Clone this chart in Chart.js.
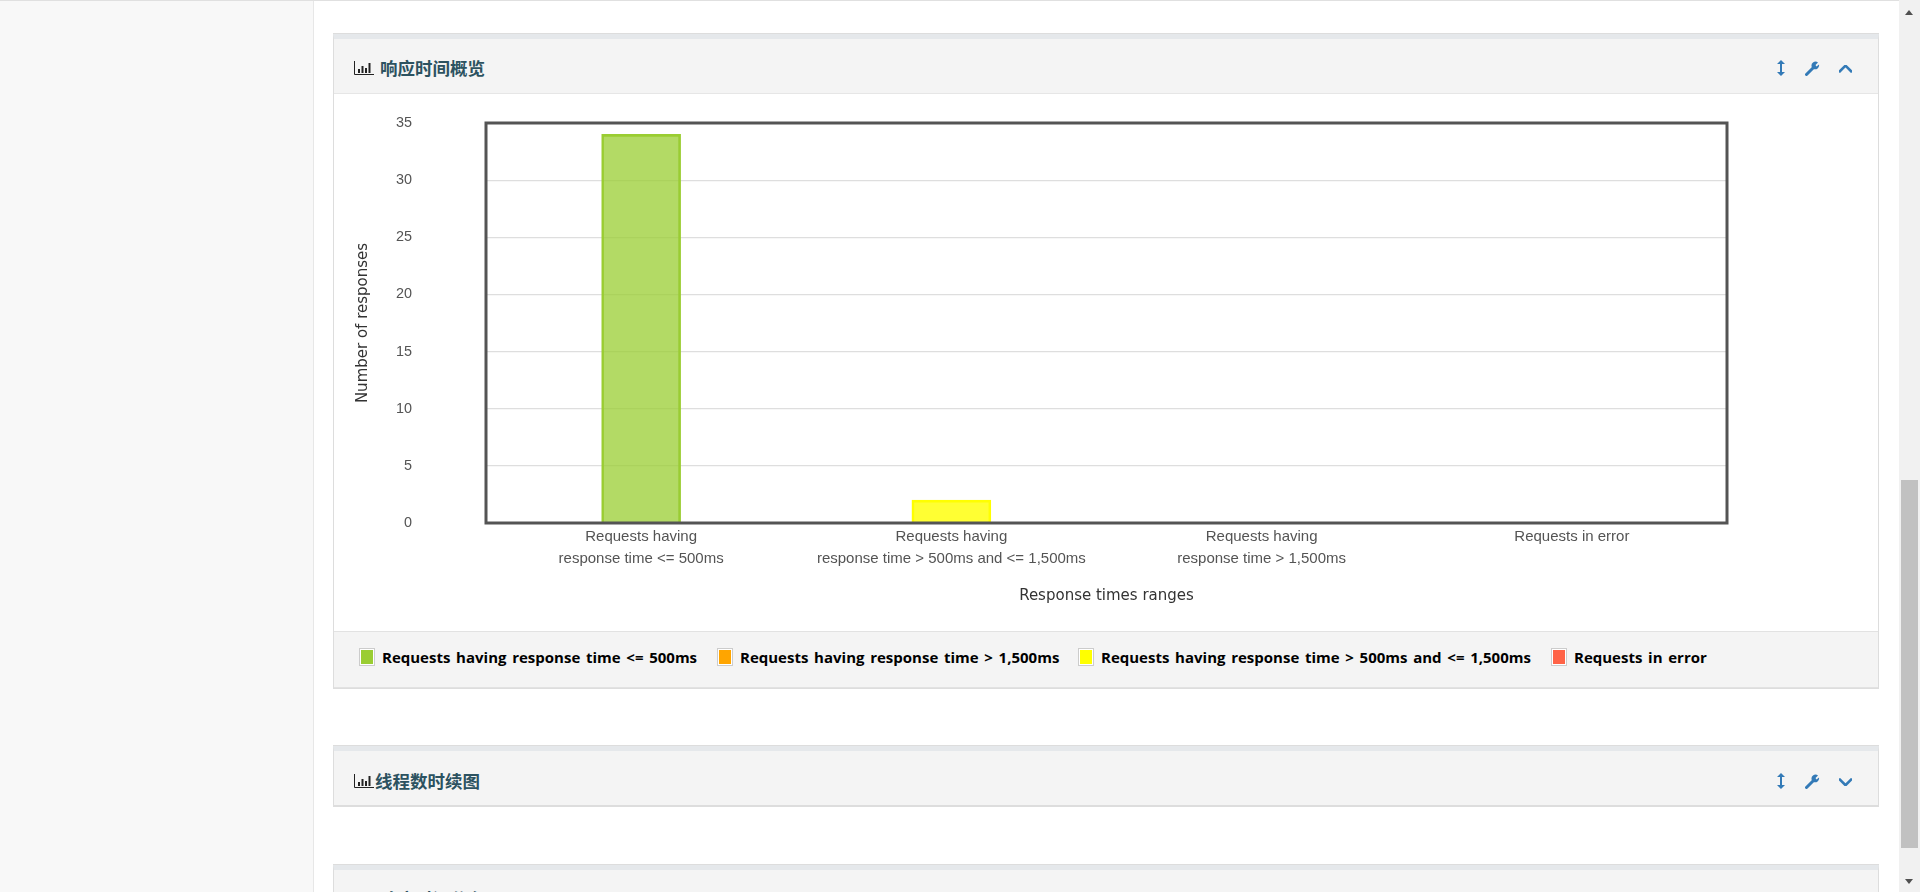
<!DOCTYPE html>
<html>
<head>
<meta charset="utf-8">
<title>响应时间概览</title>
<script src="https://cdn.jsdelivr.net/npm/chart.js@4"></script>
<style>
  html, body { margin: 0; padding: 0; width: 1920px; height: 892px; overflow: hidden; background: #fff; }
  .sidebar { position: absolute; left: 0; top: 0; width: 313px; height: 892px; background: #f8f8f8; border-right: 1px solid #e7e7e7; }
  .topline { position: absolute; left: 0; top: 0; width: 1899px; height: 1px; background: #e0e0e0; }
  .panel { position: absolute; left: 333px; width: 1546px; box-sizing: border-box; background: #fff; border: 1px solid #dddddd; border-top: 5px solid #e5e8eb; box-shadow: 0 -1px 0 #dddddd; }
  .panel .head { position: relative; background: #f4f4f4; box-sizing: border-box; }
  .title { position: absolute; left: 46px; font: bold 17.5px "Noto Sans CJK SC", sans-serif; color: #2c5260; white-space: nowrap; }
  .ico { position: absolute; }
  .foot { position: absolute; left: 334px; top: 631px; width: 1544px; height: 57px; box-sizing: border-box; background: #f4f4f4; border-top: 1px solid #e2e2e2; border-bottom: 1px solid #e2e2e2; }
  .swatch { position: absolute; top: 16px; width: 16px; height: 18px; box-sizing: border-box; border: 1px solid #cccccc; padding: 1px; background: #fff; }
  .swatch i { display: block; width: 100%; height: 100%; }
  .leg { position: absolute; top: 14px; font: bold 15px "Open Sans", sans-serif; word-spacing: 1.8px; color: #000; white-space: nowrap; line-height: 22px; }
  #wrap { position: absolute; left: 334px; top: 94px; width: 1544px; height: 537px; }
  .sb { position: absolute; left: 1899px; top: 0; width: 21px; height: 892px; background: #f1f1f1; }
  .sb .thumb { position: absolute; left: 2px; top: 480px; width: 17px; height: 368px; background: #c1c1c1; }
  .sb .up { position: absolute; left: 6px; top: 10px; width: 0; height: 0; border-left: 4.5px solid transparent; border-right: 4.5px solid transparent; border-bottom: 5px solid #505050; }
  .sb .down { position: absolute; left: 6px; top: 879px; width: 0; height: 0; border-left: 4.5px solid transparent; border-right: 4.5px solid transparent; border-top: 5px solid #505050; }
</style>
</head>
<body>
<div class="sidebar"></div>
<div class="topline"></div>

<div class="panel" style="top:34px;height:655px"><div class="head" style="height:55px;border-bottom:1px solid #e6e6e6"></div></div>
<div class="panel" style="top:746px;height:61px;border-bottom-width:2px"><div class="head" style="height:54px"></div></div>
<div class="panel" style="top:865px;height:40px"><div class="head" style="height:40px"></div></div>

<div id="wrap"><canvas id="chart1"></canvas></div>
<div class="foot" id="foot"></div>

<div class="sb"><div class="up"></div><div class="thumb"></div><div class="down"></div></div>

<script>
// dados do grafico
const categorias = [
  ['Requests having', 'response time <= 500ms'],
  ['Requests having', 'response time > 500ms and <= 1,500ms'],
  ['Requests having', 'response time > 1,500ms'],
  'Requests in error'
]
const valores = [34, 2, 0, 0]
const corBorda = ['#9acd32', '#ffff00', '#ffa500', '#ff6347']
const corFundo = ['rgba(154,205,50,0.75)', 'rgba(255,255,0,0.8)', 'rgba(255,165,0,0.8)', 'rgba(255,99,71,0.8)']
const yTicks = [0, 5, 10, 15, 20, 25, 30, 35]

const legendaTextos = [
  'Requests having response time <= 500ms',
  'Requests having response time > 1,500ms',
  'Requests having response time > 500ms and <= 1,500ms',
  'Requests in error'
]
const legendaCores = ['#9acd32', '#ffa500', '#ffff00', '#ff6347']
const legendaX = [25, 383, 744, 1217]

const titulos = ['响应时间概览', '线程数时续图', '响应时间分布']

// legenda
const foot = document.getElementById('foot')
legendaTextos.forEach(function (txt, i) {
  const s = document.createElement('div')
  s.className = 'swatch'
  s.style.left = legendaX[i] + 'px'
  s.innerHTML = '<i style="background:' + legendaCores[i] + '"></i>'
  foot.appendChild(s)
  const t = document.createElement('div')
  t.className = 'leg'
  t.style.left = (legendaX[i] + 23) + 'px'
  t.textContent = txt
  foot.appendChild(t)
})

// cabecalhos dos paineis
const barIcon = '<svg width="20" height="14" viewBox="0 0 20 14"><path d="M0.5 0v13.5H20" fill="none" stroke="#222" stroke-width="1"/><path d="M4 8h2v4H4zM7.5 5h2v7h-2zM11 7h2v5h-2zM14.5 2h2v10h-2z" fill="#222"/></svg>'
function icones(y, aberto) {
  const seta = aberto ? 'M0 6.5L6.5 0L13 6.5' : 'M0 0L6.5 6.5L13 0'
  const html =
    '<svg class="ico" style="left:1776px;top:' + (y - 8) + 'px" width="10" height="16" viewBox="0 0 10 16"><path d="M5 0L9 4H6V12H9L5 16L1 12H4V4H1Z" fill="#337ab7"/></svg>' +
    '<svg class="ico" style="left:1805px;top:' + (y - 7) + 'px" width="15" height="15" viewBox="0 0 15 15"><path d="M1.5 13.5L8 7" stroke="#337ab7" stroke-width="3" stroke-linecap="round"/><path d="M7 6.5A4 4 0 0 1 13 1.5L10.5 4L11.5 5.5L14 3.5A4 4 0 0 1 8.5 8Z" fill="#337ab7"/></svg>' +
    '<svg class="ico" style="left:1839px;top:' + (y - 3) + 'px" width="13" height="8" viewBox="0 0 13 8"><path d="' + seta + '" transform="translate(0 0.7)" fill="none" stroke="#337ab7" stroke-width="2.6"/></svg>'
  document.body.insertAdjacentHTML('beforeend', html)
}
function cabecalho(txt, xIcone, xTexto, y) {
  document.body.insertAdjacentHTML('beforeend',
    '<div class="ico" style="left:' + xIcone + 'px;top:' + (y - 7) + 'px;line-height:0">' + barIcon + '</div>' +
    '<div class="title" style="left:' + xTexto + 'px;top:' + (y - 13) + 'px">' + txt + '</div>')
}
cabecalho(titulos[0], 354, 380, 68)
cabecalho(titulos[1], 354, 375, 781)
cabecalho(titulos[2], 354, 380, 899)
icones(68, true)
icones(781, false)

// moldura do grafico
const moldura = {
  id: 'moldura',
  afterDatasetsDraw(chart) {
    const a = chart.chartArea
    const ctx = chart.ctx
    ctx.save()
    ctx.strokeStyle = '#545454'
    ctx.lineWidth = 3
    ctx.strokeRect(a.left, a.top, a.right - a.left, a.bottom - a.top)
    ctx.restore()
  }
}

// inicio grafico
const myChart = new Chart(document.getElementById('chart1'), {
  type: 'bar',
  data: {
    labels: categorias,
    datasets: [{
      data: valores,
      backgroundColor: corFundo,
      borderColor: corBorda,
      borderWidth: 2,
      barThickness: 79
    }]
  },
  plugins: [moldura],
  options: {
    responsive: true,
    maintainAspectRatio: false,
    animation: false,
    layout: { padding: { left: 20, right: 151, top: 29, bottom: 26 } },
    plugins: { legend: { display: false }, tooltip: { enabled: false } },
    scales: {
      x: {
        grid: { display: false, tickLength: 3 },
        border: { display: false },
        ticks: {
          autoSkip: false,
          maxRotation: 0,
          minRotation: 0,
          padding: 0,
          color: '#545454',
          font: { family: '"Liberation Sans", Arial, sans-serif', size: 15, lineHeight: 22 / 15 }
        },
        title: {
          display: true,
          text: 'Response times ranges',
          color: '#333',
          padding: { top: 17, bottom: 0 },
          font: { family: '"DejaVu Sans", Verdana, sans-serif', size: 15 }
        }
      },
      y: {
        min: 0,
        max: 35,
        afterFit(scale) { scale.width = 132 },
        afterBuildTicks(scale) { scale.ticks = yTicks.map(function (v) { return { value: v } }) },
        grid: { color: '#dedede', lineWidth: 1.2, drawTicks: true, tickLength: 74, tickColor: 'rgba(0,0,0,0)' },
        border: { display: false },
        ticks: {
          padding: 0,
          color: '#545454',
          font: { family: '"Liberation Sans", Arial, sans-serif', size: 14.4 }
        },
        title: {
          display: true,
          text: 'Number of responses',
          color: '#333',
          padding: 0,
          font: { family: '"DejaVu Sans", Verdana, sans-serif', size: 15 }
        }
      }
    }
  }
})
// fim grafico
</script>
</body>
</html>
